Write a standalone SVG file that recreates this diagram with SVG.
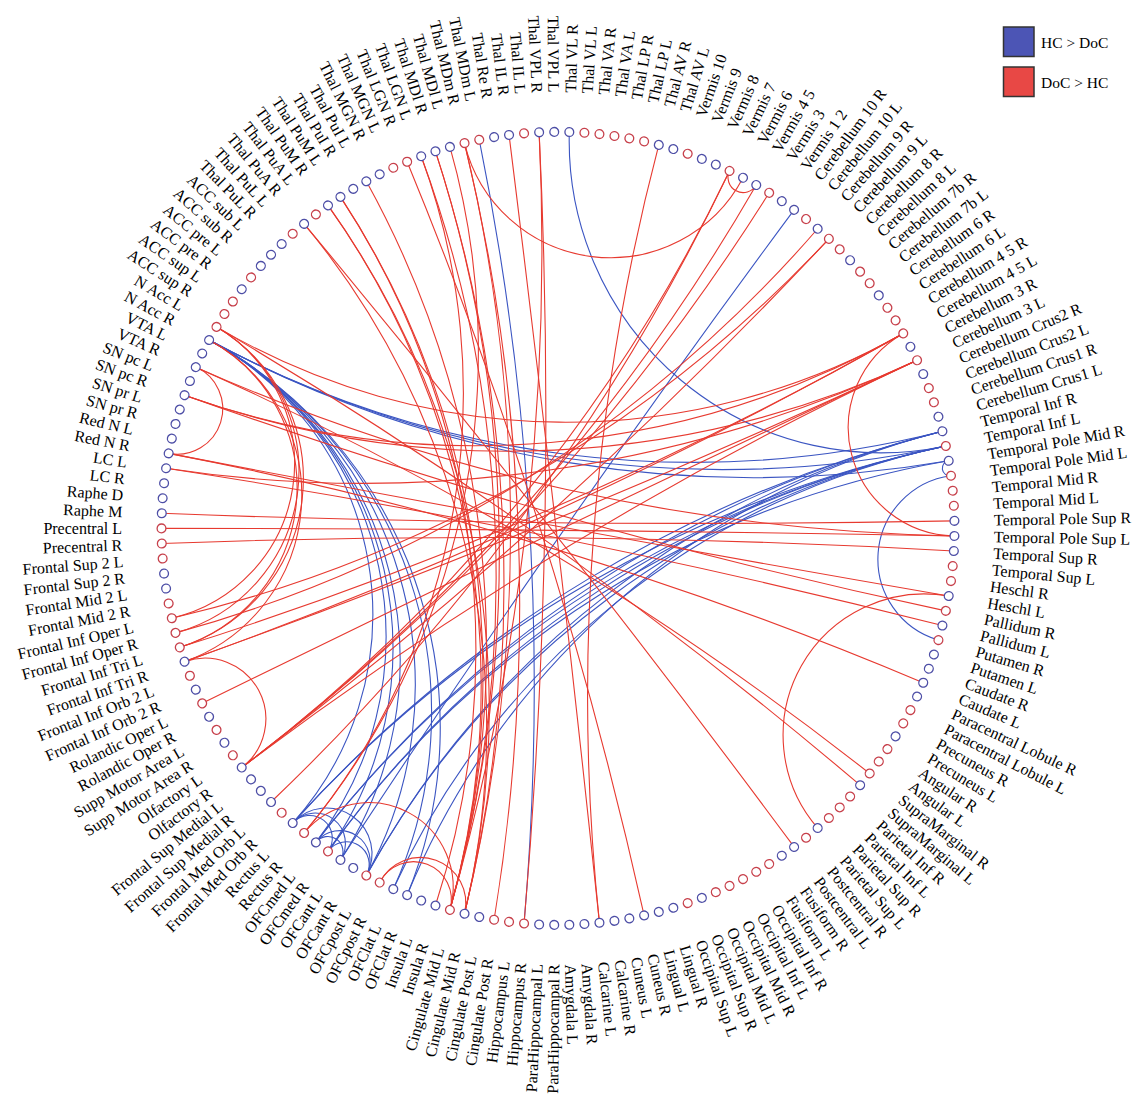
<svg xmlns="http://www.w3.org/2000/svg" xmlns:xlink="http://www.w3.org/1999/xlink" width="1143" height="1104" viewBox="0 0 1143 1104">
<style>
.nb{fill:#fff;stroke:#4d4ea6;stroke-width:1.3}
.nr{fill:#fff;stroke:#c7404b;stroke-width:1.3}
text{font-family:"Liberation Serif","Times New Roman",serif;font-size:16px;fill:#000;dominant-baseline:central}
.tl{text-anchor:end}
.tr{text-anchor:start}
.eb{fill:none;stroke:#3b55c2;stroke-width:1.1}
.er{fill:none;stroke:#e73a30;stroke-width:1.1}
.lg{font-size:15.5px}
</style>
<defs>
<path id="d1" d="M396.43,-7.55 A7.55,7.55 0 0 0 396.43,7.55"/>
<path id="d2" d="M396.21,-15.10 A15.11,15.11 0 0 0 396.21,15.10"/>
<path id="d3" d="M395.85,-22.64 A22.67,22.67 0 0 0 395.85,22.64"/>
<path id="d4" d="M395.35,-30.17 A30.26,30.26 0 0 0 395.35,30.17"/>
<path id="d5" d="M394.70,-37.69 A37.86,37.86 0 0 0 394.70,37.69"/>
<path id="d6" d="M393.92,-45.20 A45.50,45.50 0 0 0 393.92,45.20"/>
<path id="d8" d="M391.91,-60.16 A60.87,60.87 0 0 0 391.91,60.16"/>
<path id="d11" d="M387.84,-82.44 A84.28,84.28 0 0 0 387.84,82.44"/>
<path id="d14" d="M382.50,-104.44 A108.27,108.27 0 0 0 382.50,104.44"/>
<path id="d18" d="M373.44,-133.24 A141.47,141.47 0 0 0 373.44,133.24"/>
<path id="d19" d="M370.84,-140.33 A150.04,150.04 0 0 0 370.84,140.33"/>
<path id="d20" d="M368.10,-147.36 A158.73,158.73 0 0 0 368.10,147.36"/>
<path id="d21" d="M365.23,-154.35 A167.56,167.56 0 0 0 365.23,154.35"/>
<path id="d22" d="M362.22,-161.27 A176.53,176.53 0 0 0 362.22,161.27"/>
<path id="d35" d="M311.67,-245.10 A311.81,311.81 0 0 0 311.67,245.10"/>
<path id="d37" d="M302.11,-256.79 A337.02,337.02 0 0 0 302.11,256.79"/>
<path id="d38" d="M297.17,-262.49 A350.23,350.23 0 0 0 297.17,262.49"/>
<path id="d39" d="M292.12,-268.10 A363.90,363.90 0 0 0 292.12,268.10"/>
<path id="d41" d="M281.70,-279.03 A392.74,392.74 0 0 0 281.70,279.03"/>
<path id="d43" d="M270.87,-289.55 A423.84,423.84 0 0 0 270.87,289.55"/>
<path id="d44" d="M265.31,-294.66 A440.36,440.36 0 0 0 265.31,294.66"/>
<path id="d55" d="M198.25,-343.38 A686.76,686.76 0 0 0 198.25,343.38"/>
<path id="d57" d="M185.03,-350.68 A751.45,751.45 0 0 0 185.03,350.68"/>
<path id="d58" d="M178.32,-354.14 A787.42,787.42 0 0 0 178.32,354.14"/>
<path id="d59" d="M171.55,-357.47 A826.21,826.21 0 0 0 171.55,357.47"/>
<path id="d60" d="M164.71,-360.71 A868.32,868.32 0 0 0 164.71,360.71"/>
<path id="d61" d="M157.82,-363.74 A913.87,913.87 0 0 0 157.82,363.74"/>
<path id="d62" d="M150.86,-366.68 A963.71,963.71 0 0 0 150.86,366.68"/>
<path id="d63" d="M143.85,-369.48 A1018.40,1018.40 0 0 0 143.85,369.48"/>
<path id="d64" d="M136.79,-372.16 A1078.71,1078.71 0 0 0 136.79,372.16"/>
<path id="d65" d="M129.68,-374.69 A1145.61,1145.61 0 0 0 129.68,374.69"/>
<path id="d66" d="M122.53,-377.09 A1220.30,1220.30 0 0 0 122.53,377.09"/>
<path id="d67" d="M115.32,-379.36 A1304.29,1304.29 0 0 0 115.32,379.36"/>
<path id="d68" d="M108.08,-381.49 A1399.50,1399.50 0 0 0 108.08,381.49"/>
<path id="d70" d="M93.48,-385.32 A1634.39,1634.39 0 0 0 93.48,385.32"/>
<path id="d72" d="M78.74,-388.60 A1956.81,1956.81 0 0 0 78.74,388.60"/>
<path id="d73" d="M71.33,-390.03 A2168.09,2168.09 0 0 0 71.33,390.03"/>
<path id="d74" d="M63.89,-391.32 A2428.54,2428.54 0 0 0 63.89,391.32"/>
<path id="d75" d="M56.43,-392.46 A2757.73,2757.73 0 0 0 56.43,392.46"/>
<path id="d76" d="M48.95,-393.47 A3187.42,3187.42 0 0 0 48.95,393.47"/>
<path id="d77" d="M41.45,-394.33 A3772.45,3772.45 0 0 0 41.45,394.33"/>
<path id="d78" d="M33.93,-395.05 A4616.4,4616.4 0 0 0 33.93,395.05"/>
<path id="d79" d="M26.40,-395.62 A5941.1,5941.1 0 0 0 26.40,395.62"/>
<path id="d80" d="M18.87,-396.06 A8323.5,8323.5 0 0 0 18.87,396.06"/>
<path id="d81" d="M11.32,-396.34 A13879,13879 0 0 0 11.32,396.34"/>
<path id="d82" d="M3.78,-396.48 A41648,41648 0 0 0 3.78,396.48"/>
</defs>
<rect width="1143" height="1104" fill="#fff"/>
<g id="connectors" transform="translate(558 528.4)">
<use href="#d35" class="eb" transform="rotate(-189.818)"/>
<use href="#d37" class="eb" transform="rotate(-192)"/>
<use href="#d38" class="eb" transform="rotate(-193.091)"/>
<use href="#d39" class="eb" transform="rotate(-194.182)"/>
<use href="#d41" class="eb" transform="rotate(-196.364)"/>
<use href="#d43" class="eb" transform="rotate(-198.545)"/>
<use href="#d44" class="eb" transform="rotate(-199.636)"/>
<use href="#d64" class="eb" transform="rotate(-81.818)"/>
<use href="#d63" class="eb" transform="rotate(-82.909)"/>
<use href="#d65" class="eb" transform="rotate(-80.727)"/>
<use href="#d3" class="eb" transform="rotate(128.727)"/>
<use href="#d6" class="eb" transform="rotate(125.455)"/>
<use href="#d4" class="eb" transform="rotate(123.273)"/>
<use href="#d3" class="eb" transform="rotate(122.182)"/>
<use href="#d4" class="eb" transform="rotate(127.636)"/>
<use href="#d2" class="eb" transform="rotate(125.455)"/>
<use href="#d66" class="eb" transform="rotate(60)"/>
<use href="#d67" class="eb" transform="rotate(58.909)"/>
<use href="#d64" class="eb" transform="rotate(57.818)"/>
<use href="#d65" class="eb" transform="rotate(56.727)"/>
<use href="#d63" class="eb" transform="rotate(56.727)"/>
<use href="#d62" class="eb" transform="rotate(57.818)"/>
<use href="#d60" class="eb" transform="rotate(53.455)"/>
<use href="#d61" class="eb" transform="rotate(52.364)"/>
<use href="#d58" class="eb" transform="rotate(51.273)"/>
<use href="#d58" class="eb" transform="rotate(49.091)"/>
<use href="#d81" class="eb" transform="rotate(34.909)"/>
<use href="#d35" class="eb" transform="rotate(-50.182)"/>
<use href="#d75" class="eb" transform="rotate(-183.273)"/>
<use href="#d11" class="eb" transform="rotate(4.364)"/>
<use href="#d1" class="eb" transform="rotate(-8.727)"/>
<use href="#d20" class="er" transform="rotate(-171.273)"/>
<use href="#d21" class="er" transform="rotate(-172.364)"/>
<use href="#d22" class="er" transform="rotate(-173.455)"/>
<use href="#d21" class="er" transform="rotate(-174.545)"/>
<use href="#d22" class="er" transform="rotate(-175.636)"/>
<use href="#d6" class="er" transform="rotate(-162.545)"/>
<use href="#d78" class="er" transform="rotate(-234.545)"/>
<use href="#d76" class="er" transform="rotate(-238.909)"/>
<use href="#d79" class="er" transform="rotate(-74.182)"/>
<use href="#d62" class="er" transform="rotate(-92.727)"/>
<use href="#d82" class="er" transform="rotate(-79.636)"/>
<use href="#d77" class="er" transform="rotate(-253.091)"/>
<use href="#d80" class="er" transform="rotate(-258.545)"/>
<use href="#d67" class="er" transform="rotate(-98.182)"/>
<use href="#d81" class="er" transform="rotate(-89.455)"/>
<use href="#d82" class="er" transform="rotate(90.545)"/>
<use href="#d80" class="er" transform="rotate(90.545)"/>
<use href="#d67" class="er" transform="rotate(-120)"/>
<use href="#d67" class="er" transform="rotate(-122.182)"/>
<use href="#d77" class="er" transform="rotate(-113.455)"/>
<use href="#d80" class="er" transform="rotate(-112.364)"/>
<use href="#d78" class="er" transform="rotate(-114.545)"/>
<use href="#d82" class="er" transform="rotate(64.364)"/>
<use href="#d8" class="er" transform="rotate(151.636)"/>
<use href="#d78" class="er" transform="rotate(-132)"/>
<use href="#d73" class="er" transform="rotate(-137.455)"/>
<use href="#d72" class="er" transform="rotate(-138.545)"/>
<use href="#d70" class="er" transform="rotate(-140.727)"/>
<use href="#d77" class="er" transform="rotate(58.909)"/>
<use href="#d73" class="er" transform="rotate(-144)"/>
<use href="#d2" class="er" transform="rotate(-62.182)"/>
<use href="#d57" class="er" transform="rotate(-168)"/>
<use href="#d55" class="er" transform="rotate(-170.182)"/>
<use href="#d11" class="er" transform="rotate(117.818)"/>
<use href="#d5" class="er" transform="rotate(111.273)"/>
<use href="#d6" class="er" transform="rotate(110.182)"/>
<use href="#d59" class="er" transform="rotate(-187.636)"/>
<use href="#d74" class="er" transform="rotate(-173.455)"/>
<use href="#d67" class="er" transform="rotate(-181.091)"/>
<use href="#d66" class="er" transform="rotate(-182.182)"/>
<use href="#d62" class="er" transform="rotate(-186.545)"/>
<use href="#d60" class="er" transform="rotate(-188.727)"/>
<use href="#d59" class="er" transform="rotate(-189.818)"/>
<use href="#d70" class="er" transform="rotate(-180)"/>
<use href="#d68" class="er" transform="rotate(-182.182)"/>
<use href="#d60" class="er" transform="rotate(-190.909)"/>
<use href="#d58" class="er" transform="rotate(-193.091)"/>
<use href="#d72" class="er" transform="rotate(-182.182)"/>
<use href="#d79" class="er" transform="rotate(-178.909)"/>
<use href="#d73" class="er" transform="rotate(4.364)"/>
<use href="#d82" class="er" transform="rotate(-186.545)"/>
<use href="#d78" class="er" transform="rotate(-197.455)"/>
<use href="#d81" class="er" transform="rotate(-218.182)"/>
<use href="#d18" class="er" transform="rotate(29.455)"/>
<use href="#d14" class="er" transform="rotate(-14.182)"/>
<use href="#d19" class="er" transform="rotate(-82.909)"/>
<use href="#d55" class="er" transform="rotate(-89.455)"/>
<use href="#d72" class="er" transform="rotate(-77.455)"/>
<use href="#d60" class="er" transform="rotate(-94.909)"/>
</g>
<g id="nodes" transform="translate(558 528.4)">
<g id="n0" transform="rotate(180)"><circle class="nr" cx="396.5" r="4.4"/><text class="tl" transform="rotate(180)" x="-436">Precentral L</text></g>
<g id="n1" transform="rotate(177.818)"><circle class="nr" cx="396.5" r="4.4"/><text class="tl" transform="rotate(180)" x="-436">Precentral R</text></g>
<g id="n2" transform="rotate(175.636)"><circle class="nr" cx="396.5" r="4.4"/><text class="tl" transform="rotate(180)" x="-436">Frontal Sup 2 L</text></g>
<g id="n3" transform="rotate(173.455)"><circle class="nb" cx="396.5" r="4.4"/><text class="tl" transform="rotate(180)" x="-436">Frontal Sup 2 R</text></g>
<g id="n4" transform="rotate(171.273)"><circle class="nb" cx="396.5" r="4.4"/><text class="tl" transform="rotate(180)" x="-436">Frontal Mid 2 L</text></g>
<g id="n5" transform="rotate(169.091)"><circle class="nr" cx="396.5" r="4.4"/><text class="tl" transform="rotate(180)" x="-436">Frontal Mid 2 R</text></g>
<g id="n6" transform="rotate(166.909)"><circle class="nr" cx="396.5" r="4.4"/><text class="tl" transform="rotate(180)" x="-436">Frontal Inf Oper L</text></g>
<g id="n7" transform="rotate(164.727)"><circle class="nr" cx="396.5" r="4.4"/><text class="tl" transform="rotate(180)" x="-436">Frontal Inf Oper R</text></g>
<g id="n8" transform="rotate(162.545)"><circle class="nr" cx="396.5" r="4.4"/><text class="tl" transform="rotate(180)" x="-436">Frontal Inf Tri L</text></g>
<g id="n9" transform="rotate(160.364)"><circle class="nb" cx="396.5" r="4.4"/><text class="tl" transform="rotate(180)" x="-436">Frontal Inf Tri R</text></g>
<g id="n10" transform="rotate(158.182)"><circle class="nr" cx="396.5" r="4.4"/><text class="tl" transform="rotate(180)" x="-436">Frontal Inf Orb 2 L</text></g>
<g id="n11" transform="rotate(156)"><circle class="nb" cx="396.5" r="4.4"/><text class="tl" transform="rotate(180)" x="-436">Frontal Inf Orb 2 R</text></g>
<g id="n12" transform="rotate(153.818)"><circle class="nr" cx="396.5" r="4.4"/><text class="tl" transform="rotate(180)" x="-436">Rolandic Oper L</text></g>
<g id="n13" transform="rotate(151.636)"><circle class="nb" cx="396.5" r="4.4"/><text class="tl" transform="rotate(180)" x="-436">Rolandic Oper R</text></g>
<g id="n14" transform="rotate(149.455)"><circle class="nr" cx="396.5" r="4.4"/><text class="tl" transform="rotate(180)" x="-436">Supp Motor Area L</text></g>
<g id="n15" transform="rotate(147.273)"><circle class="nb" cx="396.5" r="4.4"/><text class="tl" transform="rotate(180)" x="-436">Supp Motor Area R</text></g>
<g id="n16" transform="rotate(145.091)"><circle class="nr" cx="396.5" r="4.4"/><text class="tl" transform="rotate(180)" x="-436">Olfactory L</text></g>
<g id="n17" transform="rotate(142.909)"><circle class="nb" cx="396.5" r="4.4"/><text class="tl" transform="rotate(180)" x="-436">Olfactory R</text></g>
<g id="n18" transform="rotate(140.727)"><circle class="nb" cx="396.5" r="4.4"/><text class="tl" transform="rotate(180)" x="-436">Frontal Sup Medial L</text></g>
<g id="n19" transform="rotate(138.545)"><circle class="nb" cx="396.5" r="4.4"/><text class="tl" transform="rotate(180)" x="-436">Frontal Sup Medial R</text></g>
<g id="n20" transform="rotate(136.364)"><circle class="nb" cx="396.5" r="4.4"/><text class="tl" transform="rotate(180)" x="-436">Frontal Med Orb L</text></g>
<g id="n21" transform="rotate(134.182)"><circle class="nr" cx="396.5" r="4.4"/><text class="tl" transform="rotate(180)" x="-436">Frontal Med Orb R</text></g>
<g id="n22" transform="rotate(132)"><circle class="nb" cx="396.5" r="4.4"/><text class="tl" transform="rotate(180)" x="-436">Rectus L</text></g>
<g id="n23" transform="rotate(129.818)"><circle class="nr" cx="396.5" r="4.4"/><text class="tl" transform="rotate(180)" x="-436">Rectus R</text></g>
<g id="n24" transform="rotate(127.636)"><circle class="nb" cx="396.5" r="4.4"/><text class="tl" transform="rotate(180)" x="-436">OFCmed L</text></g>
<g id="n25" transform="rotate(125.455)"><circle class="nr" cx="396.5" r="4.4"/><text class="tl" transform="rotate(180)" x="-436">OFCmed R</text></g>
<g id="n26" transform="rotate(123.273)"><circle class="nb" cx="396.5" r="4.4"/><text class="tl" transform="rotate(180)" x="-436">OFCant L</text></g>
<g id="n27" transform="rotate(121.091)"><circle class="nb" cx="396.5" r="4.4"/><text class="tl" transform="rotate(180)" x="-436">OFCant R</text></g>
<g id="n28" transform="rotate(118.909)"><circle class="nr" cx="396.5" r="4.4"/><text class="tl" transform="rotate(180)" x="-436">OFCpost L</text></g>
<g id="n29" transform="rotate(116.727)"><circle class="nr" cx="396.5" r="4.4"/><text class="tl" transform="rotate(180)" x="-436">OFCpost R</text></g>
<g id="n30" transform="rotate(114.545)"><circle class="nb" cx="396.5" r="4.4"/><text class="tl" transform="rotate(180)" x="-436">OFClat L</text></g>
<g id="n31" transform="rotate(112.364)"><circle class="nb" cx="396.5" r="4.4"/><text class="tl" transform="rotate(180)" x="-436">OFClat R</text></g>
<g id="n32" transform="rotate(110.182)"><circle class="nb" cx="396.5" r="4.4"/><text class="tl" transform="rotate(180)" x="-436">Insula L</text></g>
<g id="n33" transform="rotate(108)"><circle class="nb" cx="396.5" r="4.4"/><text class="tl" transform="rotate(180)" x="-436">Insula R</text></g>
<g id="n34" transform="rotate(105.818)"><circle class="nr" cx="396.5" r="4.4"/><text class="tl" transform="rotate(180)" x="-436">Cingulate Mid L</text></g>
<g id="n35" transform="rotate(103.636)"><circle class="nb" cx="396.5" r="4.4"/><text class="tl" transform="rotate(180)" x="-436">Cingulate Mid R</text></g>
<g id="n36" transform="rotate(101.455)"><circle class="nb" cx="396.5" r="4.4"/><text class="tl" transform="rotate(180)" x="-436">Cingulate Post L</text></g>
<g id="n37" transform="rotate(99.273)"><circle class="nr" cx="396.5" r="4.4"/><text class="tl" transform="rotate(180)" x="-436">Cingulate Post R</text></g>
<g id="n38" transform="rotate(97.091)"><circle class="nr" cx="396.5" r="4.4"/><text class="tl" transform="rotate(180)" x="-436">Hippocampus L</text></g>
<g id="n39" transform="rotate(94.909)"><circle class="nr" cx="396.5" r="4.4"/><text class="tl" transform="rotate(180)" x="-436">Hippocampus R</text></g>
<g id="n40" transform="rotate(92.727)"><circle class="nb" cx="396.5" r="4.4"/><text class="tl" transform="rotate(180)" x="-436">ParaHippocampal L</text></g>
<g id="n41" transform="rotate(90.545)"><circle class="nb" cx="396.5" r="4.4"/><text class="tl" transform="rotate(180)" x="-436">ParaHippocampal R</text></g>
<g id="n42" transform="rotate(88.364)"><circle class="nb" cx="396.5" r="4.4"/><text class="tr" x="436">Amygdala L</text></g>
<g id="n43" transform="rotate(86.182)"><circle class="nb" cx="396.5" r="4.4"/><text class="tr" x="436">Amygdala R</text></g>
<g id="n44" transform="rotate(84)"><circle class="nb" cx="396.5" r="4.4"/><text class="tr" x="436">Calcarine L</text></g>
<g id="n45" transform="rotate(81.818)"><circle class="nb" cx="396.5" r="4.4"/><text class="tr" x="436">Calcarine R</text></g>
<g id="n46" transform="rotate(79.636)"><circle class="nb" cx="396.5" r="4.4"/><text class="tr" x="436">Cuneus L</text></g>
<g id="n47" transform="rotate(77.455)"><circle class="nb" cx="396.5" r="4.4"/><text class="tr" x="436">Cuneus R</text></g>
<g id="n48" transform="rotate(75.273)"><circle class="nb" cx="396.5" r="4.4"/><text class="tr" x="436">Lingual L</text></g>
<g id="n49" transform="rotate(73.091)"><circle class="nb" cx="396.5" r="4.4"/><text class="tr" x="436">Lingual R</text></g>
<g id="n50" transform="rotate(70.909)"><circle class="nr" cx="396.5" r="4.4"/><text class="tr" x="436">Occipital Sup L</text></g>
<g id="n51" transform="rotate(68.727)"><circle class="nb" cx="396.5" r="4.4"/><text class="tr" x="436">Occipital Sup R</text></g>
<g id="n52" transform="rotate(66.545)"><circle class="nr" cx="396.5" r="4.4"/><text class="tr" x="436">Occipital Mid L</text></g>
<g id="n53" transform="rotate(64.364)"><circle class="nr" cx="396.5" r="4.4"/><text class="tr" x="436">Occipital Mid R</text></g>
<g id="n54" transform="rotate(62.182)"><circle class="nr" cx="396.5" r="4.4"/><text class="tr" x="436">Occipital Inf L</text></g>
<g id="n55" transform="rotate(60)"><circle class="nr" cx="396.5" r="4.4"/><text class="tr" x="436">Occipital Inf R</text></g>
<g id="n56" transform="rotate(57.818)"><circle class="nr" cx="396.5" r="4.4"/><text class="tr" x="436">Fusiform L</text></g>
<g id="n57" transform="rotate(55.636)"><circle class="nb" cx="396.5" r="4.4"/><text class="tr" x="436">Fusiform R</text></g>
<g id="n58" transform="rotate(53.455)"><circle class="nb" cx="396.5" r="4.4"/><text class="tr" x="436">Postcentral L</text></g>
<g id="n59" transform="rotate(51.273)"><circle class="nr" cx="396.5" r="4.4"/><text class="tr" x="436">Postcentral R</text></g>
<g id="n60" transform="rotate(49.091)"><circle class="nb" cx="396.5" r="4.4"/><text class="tr" x="436">Parietal Sup L</text></g>
<g id="n61" transform="rotate(46.909)"><circle class="nr" cx="396.5" r="4.4"/><text class="tr" x="436">Parietal Sup R</text></g>
<g id="n62" transform="rotate(44.727)"><circle class="nr" cx="396.5" r="4.4"/><text class="tr" x="436">Parietal Inf L</text></g>
<g id="n63" transform="rotate(42.545)"><circle class="nr" cx="396.5" r="4.4"/><text class="tr" x="436">Parietal Inf R</text></g>
<g id="n64" transform="rotate(40.364)"><circle class="nb" cx="396.5" r="4.4"/><text class="tr" x="436">SupraMarginal L</text></g>
<g id="n65" transform="rotate(38.182)"><circle class="nr" cx="396.5" r="4.4"/><text class="tr" x="436">SupraMarginal R</text></g>
<g id="n66" transform="rotate(36)"><circle class="nr" cx="396.5" r="4.4"/><text class="tr" x="436">Angular L</text></g>
<g id="n67" transform="rotate(33.818)"><circle class="nr" cx="396.5" r="4.4"/><text class="tr" x="436">Angular R</text></g>
<g id="n68" transform="rotate(31.636)"><circle class="nb" cx="396.5" r="4.4"/><text class="tr" x="436">Precuneus L</text></g>
<g id="n69" transform="rotate(29.455)"><circle class="nr" cx="396.5" r="4.4"/><text class="tr" x="436">Precuneus R</text></g>
<g id="n70" transform="rotate(27.273)"><circle class="nr" cx="396.5" r="4.4"/><text class="tr" x="436">Paracentral Lobule L</text></g>
<g id="n71" transform="rotate(25.091)"><circle class="nb" cx="396.5" r="4.4"/><text class="tr" x="436">Paracentral Lobule R</text></g>
<g id="n72" transform="rotate(22.909)"><circle class="nb" cx="396.5" r="4.4"/><text class="tr" x="436">Caudate L</text></g>
<g id="n73" transform="rotate(20.727)"><circle class="nb" cx="396.5" r="4.4"/><text class="tr" x="436">Caudate R</text></g>
<g id="n74" transform="rotate(18.545)"><circle class="nb" cx="396.5" r="4.4"/><text class="tr" x="436">Putamen L</text></g>
<g id="n75" transform="rotate(16.364)"><circle class="nr" cx="396.5" r="4.4"/><text class="tr" x="436">Putamen R</text></g>
<g id="n76" transform="rotate(14.182)"><circle class="nb" cx="396.5" r="4.4"/><text class="tr" x="436">Pallidum L</text></g>
<g id="n77" transform="rotate(12)"><circle class="nr" cx="396.5" r="4.4"/><text class="tr" x="436">Pallidum R</text></g>
<g id="n78" transform="rotate(9.818)"><circle class="nb" cx="396.5" r="4.4"/><text class="tr" x="436">Heschl L</text></g>
<g id="n79" transform="rotate(7.636)"><circle class="nr" cx="396.5" r="4.4"/><text class="tr" x="436">Heschl R</text></g>
<g id="n80" transform="rotate(5.455)"><circle class="nr" cx="396.5" r="4.4"/><text class="tr" x="436">Temporal Sup L</text></g>
<g id="n81" transform="rotate(3.273)"><circle class="nb" cx="396.5" r="4.4"/><text class="tr" x="436">Temporal Sup R</text></g>
<g id="n82" transform="rotate(1.091)"><circle class="nb" cx="396.5" r="4.4"/><text class="tr" x="436">Temporal Pole Sup L</text></g>
<g id="n83" transform="rotate(-1.091)"><circle class="nb" cx="396.5" r="4.4"/><text class="tr" x="436">Temporal Pole Sup R</text></g>
<g id="n84" transform="rotate(-3.273)"><circle class="nr" cx="396.5" r="4.4"/><text class="tr" x="436">Temporal Mid L</text></g>
<g id="n85" transform="rotate(-5.455)"><circle class="nr" cx="396.5" r="4.4"/><text class="tr" x="436">Temporal Mid R</text></g>
<g id="n86" transform="rotate(-7.636)"><circle class="nr" cx="396.5" r="4.4"/><text class="tr" x="436">Temporal Pole Mid L</text></g>
<g id="n87" transform="rotate(-9.818)"><circle class="nb" cx="396.5" r="4.4"/><text class="tr" x="436">Temporal Pole Mid R</text></g>
<g id="n88" transform="rotate(-12)"><circle class="nr" cx="396.5" r="4.4"/><text class="tr" x="436">Temporal Inf L</text></g>
<g id="n89" transform="rotate(-14.182)"><circle class="nb" cx="396.5" r="4.4"/><text class="tr" x="436">Temporal Inf R</text></g>
<g id="n90" transform="rotate(-16.364)"><circle class="nb" cx="396.5" r="4.4"/><text class="tr" x="436">Cerebellum Crus1 L</text></g>
<g id="n91" transform="rotate(-18.545)"><circle class="nr" cx="396.5" r="4.4"/><text class="tr" x="436">Cerebellum Crus1 R</text></g>
<g id="n92" transform="rotate(-20.727)"><circle class="nr" cx="396.5" r="4.4"/><text class="tr" x="436">Cerebellum Crus2 L</text></g>
<g id="n93" transform="rotate(-22.909)"><circle class="nb" cx="396.5" r="4.4"/><text class="tr" x="436">Cerebellum Crus2 R</text></g>
<g id="n94" transform="rotate(-25.091)"><circle class="nr" cx="396.5" r="4.4"/><text class="tr" x="436">Cerebellum 3 L</text></g>
<g id="n95" transform="rotate(-27.273)"><circle class="nb" cx="396.5" r="4.4"/><text class="tr" x="436">Cerebellum 3 R</text></g>
<g id="n96" transform="rotate(-29.455)"><circle class="nr" cx="396.5" r="4.4"/><text class="tr" x="436">Cerebellum 4 5 L</text></g>
<g id="n97" transform="rotate(-31.636)"><circle class="nr" cx="396.5" r="4.4"/><text class="tr" x="436">Cerebellum 4 5 R</text></g>
<g id="n98" transform="rotate(-33.818)"><circle class="nr" cx="396.5" r="4.4"/><text class="tr" x="436">Cerebellum 6 L</text></g>
<g id="n99" transform="rotate(-36)"><circle class="nb" cx="396.5" r="4.4"/><text class="tr" x="436">Cerebellum 6 R</text></g>
<g id="n100" transform="rotate(-38.182)"><circle class="nr" cx="396.5" r="4.4"/><text class="tr" x="436">Cerebellum 7b L</text></g>
<g id="n101" transform="rotate(-40.364)"><circle class="nr" cx="396.5" r="4.4"/><text class="tr" x="436">Cerebellum 7b R</text></g>
<g id="n102" transform="rotate(-42.545)"><circle class="nb" cx="396.5" r="4.4"/><text class="tr" x="436">Cerebellum 8 L</text></g>
<g id="n103" transform="rotate(-44.727)"><circle class="nr" cx="396.5" r="4.4"/><text class="tr" x="436">Cerebellum 8 R</text></g>
<g id="n104" transform="rotate(-46.909)"><circle class="nr" cx="396.5" r="4.4"/><text class="tr" x="436">Cerebellum 9 L</text></g>
<g id="n105" transform="rotate(-49.091)"><circle class="nb" cx="396.5" r="4.4"/><text class="tr" x="436">Cerebellum 9 R</text></g>
<g id="n106" transform="rotate(-51.273)"><circle class="nr" cx="396.5" r="4.4"/><text class="tr" x="436">Cerebellum 10 L</text></g>
<g id="n107" transform="rotate(-53.455)"><circle class="nb" cx="396.5" r="4.4"/><text class="tr" x="436">Cerebellum 10 R</text></g>
<g id="n108" transform="rotate(-55.636)"><circle class="nb" cx="396.5" r="4.4"/><text class="tr" x="436">Vermis 1 2</text></g>
<g id="n109" transform="rotate(-57.818)"><circle class="nr" cx="396.5" r="4.4"/><text class="tr" x="436">Vermis 3</text></g>
<g id="n110" transform="rotate(-60)"><circle class="nb" cx="396.5" r="4.4"/><text class="tr" x="436">Vermis 4 5</text></g>
<g id="n111" transform="rotate(-62.182)"><circle class="nb" cx="396.5" r="4.4"/><text class="tr" x="436">Vermis 6</text></g>
<g id="n112" transform="rotate(-64.364)"><circle class="nr" cx="396.5" r="4.4"/><text class="tr" x="436">Vermis 7</text></g>
<g id="n113" transform="rotate(-66.545)"><circle class="nb" cx="396.5" r="4.4"/><text class="tr" x="436">Vermis 8</text></g>
<g id="n114" transform="rotate(-68.727)"><circle class="nb" cx="396.5" r="4.4"/><text class="tr" x="436">Vermis 9</text></g>
<g id="n115" transform="rotate(-70.909)"><circle class="nr" cx="396.5" r="4.4"/><text class="tr" x="436">Vermis 10</text></g>
<g id="n116" transform="rotate(-73.091)"><circle class="nb" cx="396.5" r="4.4"/><text class="tr" x="436">Thal AV L</text></g>
<g id="n117" transform="rotate(-75.273)"><circle class="nb" cx="396.5" r="4.4"/><text class="tr" x="436">Thal AV R</text></g>
<g id="n118" transform="rotate(-77.455)"><circle class="nr" cx="396.5" r="4.4"/><text class="tr" x="436">Thal LP L</text></g>
<g id="n119" transform="rotate(-79.636)"><circle class="nr" cx="396.5" r="4.4"/><text class="tr" x="436">Thal LP R</text></g>
<g id="n120" transform="rotate(-81.818)"><circle class="nr" cx="396.5" r="4.4"/><text class="tr" x="436">Thal VA L</text></g>
<g id="n121" transform="rotate(-84)"><circle class="nr" cx="396.5" r="4.4"/><text class="tr" x="436">Thal VA R</text></g>
<g id="n122" transform="rotate(-86.182)"><circle class="nr" cx="396.5" r="4.4"/><text class="tr" x="436">Thal VL L</text></g>
<g id="n123" transform="rotate(-88.364)"><circle class="nb" cx="396.5" r="4.4"/><text class="tr" x="436">Thal VL R</text></g>
<g id="n124" transform="rotate(-90.545)"><circle class="nb" cx="396.5" r="4.4"/><text class="tl" transform="rotate(180)" x="-436">Thal VPL L</text></g>
<g id="n125" transform="rotate(-92.727)"><circle class="nb" cx="396.5" r="4.4"/><text class="tl" transform="rotate(180)" x="-436">Thal VPL R</text></g>
<g id="n126" transform="rotate(-94.909)"><circle class="nr" cx="396.5" r="4.4"/><text class="tl" transform="rotate(180)" x="-436">Thal IL L</text></g>
<g id="n127" transform="rotate(-97.091)"><circle class="nb" cx="396.5" r="4.4"/><text class="tl" transform="rotate(180)" x="-436">Thal IL R</text></g>
<g id="n128" transform="rotate(-99.273)"><circle class="nb" cx="396.5" r="4.4"/><text class="tl" transform="rotate(180)" x="-436">Thal Re R</text></g>
<g id="n129" transform="rotate(-101.455)"><circle class="nr" cx="396.5" r="4.4"/><text class="tl" transform="rotate(180)" x="-436">Thal MDm L</text></g>
<g id="n130" transform="rotate(-103.636)"><circle class="nr" cx="396.5" r="4.4"/><text class="tl" transform="rotate(180)" x="-436">Thal MDm R</text></g>
<g id="n131" transform="rotate(-105.818)"><circle class="nb" cx="396.5" r="4.4"/><text class="tl" transform="rotate(180)" x="-436">Thal MDl L</text></g>
<g id="n132" transform="rotate(-108)"><circle class="nb" cx="396.5" r="4.4"/><text class="tl" transform="rotate(180)" x="-436">Thal MDl R</text></g>
<g id="n133" transform="rotate(-110.182)"><circle class="nb" cx="396.5" r="4.4"/><text class="tl" transform="rotate(180)" x="-436">Thal LGN L</text></g>
<g id="n134" transform="rotate(-112.364)"><circle class="nr" cx="396.5" r="4.4"/><text class="tl" transform="rotate(180)" x="-436">Thal LGN R</text></g>
<g id="n135" transform="rotate(-114.545)"><circle class="nr" cx="396.5" r="4.4"/><text class="tl" transform="rotate(180)" x="-436">Thal MGN L</text></g>
<g id="n136" transform="rotate(-116.727)"><circle class="nb" cx="396.5" r="4.4"/><text class="tl" transform="rotate(180)" x="-436">Thal MGN R</text></g>
<g id="n137" transform="rotate(-118.909)"><circle class="nb" cx="396.5" r="4.4"/><text class="tl" transform="rotate(180)" x="-436">Thal PuI L</text></g>
<g id="n138" transform="rotate(-121.091)"><circle class="nb" cx="396.5" r="4.4"/><text class="tl" transform="rotate(180)" x="-436">Thal PuI R</text></g>
<g id="n139" transform="rotate(-123.273)"><circle class="nb" cx="396.5" r="4.4"/><text class="tl" transform="rotate(180)" x="-436">Thal PuM L</text></g>
<g id="n140" transform="rotate(-125.455)"><circle class="nb" cx="396.5" r="4.4"/><text class="tl" transform="rotate(180)" x="-436">Thal PuM R</text></g>
<g id="n141" transform="rotate(-127.636)"><circle class="nr" cx="396.5" r="4.4"/><text class="tl" transform="rotate(180)" x="-436">Thal PuA L</text></g>
<g id="n142" transform="rotate(-129.818)"><circle class="nb" cx="396.5" r="4.4"/><text class="tl" transform="rotate(180)" x="-436">Thal PuA R</text></g>
<g id="n143" transform="rotate(-132)"><circle class="nr" cx="396.5" r="4.4"/><text class="tl" transform="rotate(180)" x="-436">Thal PuL L</text></g>
<g id="n144" transform="rotate(-134.182)"><circle class="nb" cx="396.5" r="4.4"/><text class="tl" transform="rotate(180)" x="-436">Thal PuL R</text></g>
<g id="n145" transform="rotate(-136.364)"><circle class="nb" cx="396.5" r="4.4"/><text class="tl" transform="rotate(180)" x="-436">ACC sub L</text></g>
<g id="n146" transform="rotate(-138.545)"><circle class="nb" cx="396.5" r="4.4"/><text class="tl" transform="rotate(180)" x="-436">ACC sub R</text></g>
<g id="n147" transform="rotate(-140.727)"><circle class="nr" cx="396.5" r="4.4"/><text class="tl" transform="rotate(180)" x="-436">ACC pre L</text></g>
<g id="n148" transform="rotate(-142.909)"><circle class="nb" cx="396.5" r="4.4"/><text class="tl" transform="rotate(180)" x="-436">ACC pre R</text></g>
<g id="n149" transform="rotate(-145.091)"><circle class="nr" cx="396.5" r="4.4"/><text class="tl" transform="rotate(180)" x="-436">ACC sup L</text></g>
<g id="n150" transform="rotate(-147.273)"><circle class="nr" cx="396.5" r="4.4"/><text class="tl" transform="rotate(180)" x="-436">ACC sup R</text></g>
<g id="n151" transform="rotate(-149.455)"><circle class="nr" cx="396.5" r="4.4"/><text class="tl" transform="rotate(180)" x="-436">N Acc L</text></g>
<g id="n152" transform="rotate(-151.636)"><circle class="nb" cx="396.5" r="4.4"/><text class="tl" transform="rotate(180)" x="-436">N Acc R</text></g>
<g id="n153" transform="rotate(-153.818)"><circle class="nb" cx="396.5" r="4.4"/><text class="tl" transform="rotate(180)" x="-436">VTA L</text></g>
<g id="n154" transform="rotate(-156)"><circle class="nb" cx="396.5" r="4.4"/><text class="tl" transform="rotate(180)" x="-436">VTA R</text></g>
<g id="n155" transform="rotate(-158.182)"><circle class="nb" cx="396.5" r="4.4"/><text class="tl" transform="rotate(180)" x="-436">SN pc L</text></g>
<g id="n156" transform="rotate(-160.364)"><circle class="nb" cx="396.5" r="4.4"/><text class="tl" transform="rotate(180)" x="-436">SN pc R</text></g>
<g id="n157" transform="rotate(-162.545)"><circle class="nb" cx="396.5" r="4.4"/><text class="tl" transform="rotate(180)" x="-436">SN pr L</text></g>
<g id="n158" transform="rotate(-164.727)"><circle class="nb" cx="396.5" r="4.4"/><text class="tl" transform="rotate(180)" x="-436">SN pr R</text></g>
<g id="n159" transform="rotate(-166.909)"><circle class="nb" cx="396.5" r="4.4"/><text class="tl" transform="rotate(180)" x="-436">Red N L</text></g>
<g id="n160" transform="rotate(-169.091)"><circle class="nb" cx="396.5" r="4.4"/><text class="tl" transform="rotate(180)" x="-436">Red N R</text></g>
<g id="n161" transform="rotate(-171.273)"><circle class="nb" cx="396.5" r="4.4"/><text class="tl" transform="rotate(180)" x="-436">LC L</text></g>
<g id="n162" transform="rotate(-173.455)"><circle class="nb" cx="396.5" r="4.4"/><text class="tl" transform="rotate(180)" x="-436">LC R</text></g>
<g id="n163" transform="rotate(-175.636)"><circle class="nb" cx="396.5" r="4.4"/><text class="tl" transform="rotate(180)" x="-436">Raphe D</text></g>
<g id="n164" transform="rotate(-177.818)"><circle class="nb" cx="396.5" r="4.4"/><text class="tl" transform="rotate(180)" x="-436">Raphe M</text></g>
</g>
<g id="legend">
<rect x="1003.5" y="27" width="30.5" height="29.5" fill="#4c55b5" stroke="#333" stroke-width="1.5"/>
<text class="lg" x="1041" y="42">HC &gt; DoC</text>
<rect x="1003.5" y="67" width="30.5" height="29.5" fill="#e84845" stroke="#333" stroke-width="1.5"/>
<text class="lg" x="1041" y="82">DoC &gt; HC</text>
</g>
</svg>
